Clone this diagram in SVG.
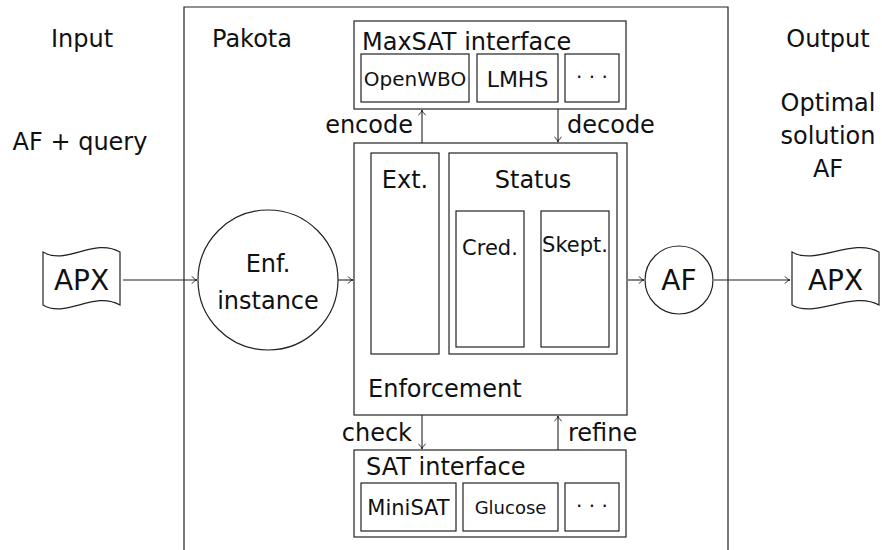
<svg xmlns="http://www.w3.org/2000/svg" width="882" height="550" viewBox="0 0 882 550">
  <style>
    text { font-family: "DejaVu Sans", "Liberation Sans", sans-serif; fill: #111; }
    .box { fill: none; stroke: #222; stroke-width: 1.2; }
    .edge { fill: none; stroke: #222; stroke-width: 1.1; }
    .lg { font-size: 24px; }
    .md { font-size: 21px; }
    .mid { text-anchor: middle; }
    .end { text-anchor: end; }
  </style>
  <defs>
    <marker id="tip" viewBox="-6 -5 8 10" markerWidth="8" markerHeight="10" refX="0" refY="0" orient="auto" markerUnits="userSpaceOnUse">
      <path d="M-5,-3.6 C-3.2,-1.2 -1.2,-0.3 0,0 C-1.2,0.3 -3.2,1.2 -5,3.6" fill="none" stroke="#222" stroke-width="1"/>
    </marker>
  </defs>

  <rect width="882" height="550" fill="#fff"/>

  <!-- column headings -->
  <g id="input-labels">
    <text class="lg mid" x="82" y="47">Input</text>
    <text class="lg mid" x="80" y="150">AF + query</text>
  </g>
  <g id="output-labels">
    <text class="lg mid" x="828" y="47">Output</text>
    <text class="lg mid" x="828" y="111">Optimal</text>
    <text class="lg mid" x="828" y="144">solution</text>
    <text class="lg mid" x="828" y="177">AF</text>
  </g>

  <!-- Pakota frame -->
  <g id="pakota">
    <path class="box" d="M184,560 V7 H728 V560"/>
    <text class="lg" x="212" y="47">Pakota</text>
  </g>

  <!-- input file -->
  <g id="apx-in">
    <path class="box" d="M43,252 C66,266 94,237 120,252 V305 C94,290 66,319 43,305 Z"/>
    <text class="mid" font-size="28" x="81.5" y="290">APX</text>
  </g>

  <!-- enforcement instance -->
  <g id="enf-instance">
    <circle class="box" cx="268" cy="280" r="70"/>
    <text class="lg mid" x="268" y="272">Enf.</text>
    <text class="lg mid" x="268" y="309">instance</text>
  </g>

  <!-- MaxSAT interface -->
  <g id="maxsat">
    <rect class="box" x="354" y="21" width="272" height="88"/>
    <text class="lg" x="362" y="50">MaxSAT interface</text>
    <rect class="box" x="361" y="54" width="108" height="48"/>
    <text class="mid" font-size="20" x="415" y="86">OpenWBO</text>
    <rect class="box" x="477" y="54" width="81" height="48"/>
    <text class="mid" font-size="22" x="517.5" y="87">LMHS</text>
    <rect class="box" x="565" y="54" width="54" height="48"/>
    <text class="mid" font-size="20" x="592" y="84">· · ·</text>
  </g>

  <!-- Enforcement -->
  <g id="enforcement">
    <rect class="box" x="354" y="143" width="273" height="272"/>
    <text class="lg" x="368" y="397">Enforcement</text>
    <rect class="box" x="371" y="153" width="68" height="201"/>
    <text class="lg mid" x="405" y="188">Ext.</text>
    <rect class="box" x="449" y="153" width="168" height="201"/>
    <text class="lg mid" x="533" y="188">Status</text>
    <rect class="box" x="456" y="211" width="68" height="136"/>
    <text class="md mid" x="490" y="255">Cred.</text>
    <rect class="box" x="541" y="211" width="68" height="136"/>
    <text class="md mid" x="575" y="252">Skept.</text>
  </g>

  <!-- SAT interface -->
  <g id="sat">
    <rect class="box" x="354" y="450" width="272" height="87"/>
    <text class="lg" x="366" y="475">SAT interface</text>
    <rect class="box" x="361" y="483" width="95" height="48"/>
    <text class="mid" font-size="21" x="408.5" y="515">MiniSAT</text>
    <rect class="box" x="463" y="483" width="95" height="48"/>
    <text class="mid" font-size="18" x="510.5" y="514">Glucose</text>
    <rect class="box" x="565" y="483" width="54" height="48"/>
    <text class="mid" font-size="20" x="592" y="513">· · ·</text>
  </g>

  <!-- result AF -->
  <g id="af-out">
    <circle class="box" cx="679" cy="280" r="34"/>
    <text class="mid" font-size="28" x="679" y="290">AF</text>
  </g>

  <!-- output file -->
  <g id="apx-out">
    <path class="box" d="M792,252 C815,266 853,237 879,252 V305 C853,290 815,319 792,305 Z"/>
    <text class="mid" font-size="28" x="835.5" y="290">APX</text>
  </g>

  <!-- connectors -->
  <g id="connectors">
    <line class="edge" x1="123" y1="280" x2="197" y2="280" marker-end="url(#tip)"/>
    <line class="edge" x1="338" y1="280" x2="353" y2="280" marker-end="url(#tip)"/>
    <line class="edge" x1="628" y1="280" x2="644" y2="280" marker-end="url(#tip)"/>
    <line class="edge" x1="714" y1="280" x2="790" y2="280" marker-end="url(#tip)"/>
    <line class="edge" x1="422" y1="143" x2="422" y2="110" marker-end="url(#tip)"/>
    <line class="edge" x1="558" y1="109" x2="558" y2="142" marker-end="url(#tip)"/>
    <line class="edge" x1="422" y1="415" x2="422" y2="449" marker-end="url(#tip)"/>
    <line class="edge" x1="558" y1="450" x2="558" y2="416" marker-end="url(#tip)"/>
    <text class="lg end" x="413" y="133">encode</text>
    <text class="lg" x="567" y="133">decode</text>
    <text class="lg end" x="412" y="441">check</text>
    <text class="lg" x="568" y="441">refine</text>
  </g>
</svg>
